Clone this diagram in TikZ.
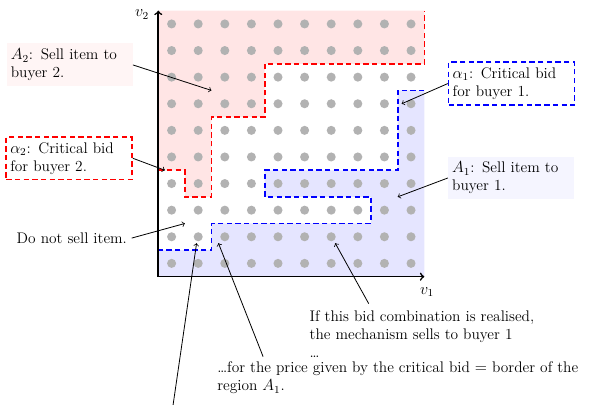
\documentclass[tikz,border=0pt]{standalone}
\usetikzlibrary{positioning}
\begin{document}
\begin{tikzpicture}[x=0.7cm,y=0.7cm,
  every node/.style={font=\fontsize{11.5}{13.6}\selectfont},
  lbl/.style={align=left,inner xsep=3pt,inner ysep=4pt,text width=3.1cm},
  crit/.style={line width=1.2pt,dash pattern=on 4pt off 2.5pt},
  callout/.style={->,semithick}]
% bid space of two buyers, regions A_1, A_2 and their critical bids
\useasboundingbox (-5.95,-4.82) rectangle (16.19,10.40);
\fill[red!10] (0,4) -- (1,4) -- (1,3) -- (2,3) -- (2,6) -- (4,6) -- (4,8) -- (10,8) -- (10,10) -- (0,10) -- cycle;
\fill[blue!10] (0,0) -- (0,1) -- (2,1) -- (2,2) -- (8,2) -- (8,3) -- (4,3) -- (4,4) -- (9,4) -- (9,7) -- (10,7) -- (10,0) -- cycle;
\foreach \i in {1,...,10}
  \foreach \j in {1,...,10}
    \fill[black!30] (\i-0.5,\j-0.5) circle (0.17);
\draw[crit,red] (0,4) -- (1,4) -- (1,3) -- (2,3) -- (2,6) -- (4,6) -- (4,8) -- (10,8) -- (10,10);
\draw[crit,blue] (10,7) -- (9,7) -- (9,4) -- (4,4) -- (4,3) -- (8,3) -- (8,2) -- (2,2) -- (2,1) -- (0,1);
\draw[line width=1.2pt,<->] (0,10) node[left=3pt,yshift=-3pt] {$v_2$} -- (0,0) -- (10,0) node[below=4pt,xshift=2pt] {$v_1$};
% labels
\node[lbl,fill=red!4] (a2box) at (-3.33,7.96) {$A_2$: Sell item to\\buyer 2.};
\node[lbl,draw=red,crit] (c2box) at (-3.35,4.45) {$\alpha_2$: Critical bid\\for buyer 2.};
\node[lbl,draw=blue,crit] (c1box) at (13.28,7.26) {$\alpha_1$: Critical bid\\for buyer 1.};
\node[lbl,fill=blue!4] (a1box) at (13.26,3.71) {$A_1$: Sell item to\\buyer 1.};
\node (nosell) at (-3.25,1.45) {Do not sell item.};
\node[align=left,anchor=west,inner sep=0pt] (combo) at (5.68,-2.17) {If this bid combination is realised,\\the mechanism sells to buyer 1\\\ldots};
\node[align=left,anchor=west,inner sep=0pt] (price) at (2.21,-3.8) {\ldots for the price given by the critical bid $=$ border of the\\region $A_1$.};
% arrow targets
\coordinate (inA2) at (2,7);
\coordinate (inC2) at (0.25,4);
\coordinate (inC1) at (9.15,6.5);
\coordinate (inA1) at (9,3);
\coordinate (inNone) at (1,2);
\coordinate (inCombo) at (6.65,1.26);
\coordinate (inPrice) at (2.26,1.26);
\coordinate (inLow) at (1.44,1.26);
\coordinate (lowEnd) at (0.53,-5);
\draw[callout] (a2box.east) -- (inA2);
\draw[callout] (c2box.east) -- (inC2);
\draw[callout] (c1box.west) -- (inC1);
\draw[callout] (a1box.west) -- (inA1);
\draw[callout] (nosell.east) -- (inNone);
\draw[callout] ([shift={(2.23,0.26)}]combo.north west) -- (inCombo);
\draw[callout] ([shift={(1.73,0.18)}]price.north west) -- (inPrice);
\draw[callout] (lowEnd) -- (inLow);
\end{tikzpicture}
\end{document}
